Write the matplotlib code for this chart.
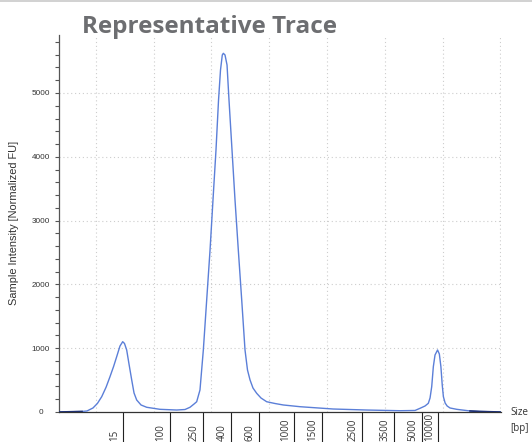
import matplotlib
matplotlib.use('Agg')
import matplotlib.pyplot as plt
from matplotlib.patches import Rectangle
from matplotlib.ticker import MultipleLocator
from matplotlib.transforms import offset_copy

W, H = 532, 442

# electropherogram trace (migration units, intensity in normalized FU)
trace_x = [0.365, 0.763, 0.849, 0.953, 1.030, 1.104, 1.180, 1.247, 1.310, 1.363, 1.420, 1.467, 1.498,
           1.536, 1.576, 1.623, 1.663, 1.709, 1.784, 1.882, 2.112, 2.401, 2.545,
           2.631, 2.701, 2.747, 2.804, 2.862, 2.920, 2.978, 3.029, 3.081, 3.125,
           3.159, 3.190, 3.208, 3.237, 3.272, 3.306, 3.358, 3.410, 3.467, 3.526,
           3.583, 3.626, 3.670, 3.721, 3.785, 3.860, 3.958, 4.102, 4.246, 4.535,
           5.106, 5.689, 6.265, 6.524, 6.611, 6.697, 6.754, 6.784, 6.813, 6.841,
           6.870, 6.914, 6.945, 6.972, 6.995, 7.015, 7.045, 7.080, 7.130, 7.246,
           7.476, 7.649, 7.995]
trace_y = [0, 8, 16, 63, 135, 240, 390, 553, 715, 867, 1034, 1102, 1074,
           972, 752, 502, 298, 188, 110, 74, 42, 31, 39,
           74, 125, 161, 345, 972, 1755, 2539, 3323, 4107, 4890,
           5360, 5596, 5622, 5596, 5439, 4890, 4107, 3323, 2539, 1755,
           972, 658, 502, 376, 293, 219, 161, 133, 110, 83,
           47, 31, 20, 24, 58, 94, 136, 219, 397, 710,
           893, 972, 909, 710, 423, 240, 141, 94, 63, 42,
           16, 8, 0]

# ladder (bp) tick labels and their positions on the migration axis
ladder_bp = ['15', '100', '250', '400', '600', '1000', '1500', '2500', '3500', '5000', '10000']
ladder_pos = [1.478, 2.285, 2.862, 3.341, 3.825, 4.436, 4.910, 5.612, 6.166, 6.640, 6.927]

yticks = [0, 1000, 2000, 3000, 4000, 5000]
ytick_labels = ['0', '1000', '2000', '3000', '4000', '5000']
grid_x = [1, 2, 3, 4, 5, 6, 7, 8]
grid_y = [1000, 2000, 3000, 4000, 5000]

fig = plt.figure(figsize=(W / 100, H / 100), dpi=100)
fig.patches.append(Rectangle((0, 1 - 2 / H), 1, 2 / H, transform=fig.transFigure,
                             facecolor='#d2d2d2', edgecolor='none'))

ax = fig.add_axes([59 / W, 30 / H, 441.5 / W, 377 / H])
ax.set_xlim(0.365, 8.003)
ax.set_ylim(0, 5909)
for s in ['top', 'right']:
    ax.spines[s].set_visible(False)
ax.spines['left'].set_color('#555555')
ax.spines['left'].set_linewidth(0.9)
ax.spines['bottom'].set_color('#333333')
ax.spines['bottom'].set_linewidth(0.9)

for gx in grid_x:
    ax.axvline(gx, color='#cdcdcd', lw=0.8, ls=(0, (1, 2.5)), zorder=0)
for gy in grid_y:
    ax.axhline(gy, color='#cdcdcd', lw=0.8, ls=(0, (1, 2.5)), zorder=0)

ax.plot(trace_x, trace_y, color='#5b7fd8', lw=1.0, zorder=3)
# darker baseline segments at both ends
sx = [x for x in trace_x if x <= 0.77]
sy = trace_y[:len(sx)]
ax.plot(sx, sy, color='#1f3070', lw=1.2, zorder=4)
ex = [x for x in trace_x if x >= 7.47]
ey = trace_y[len(trace_x) - len(ex):]
ax.plot(ex, ey, color='#1f3070', lw=1.2, zorder=4)

# x ticks: long lines below the axis with rotated labels to their left
ax.set_xticks(ladder_pos)
ax.set_xticklabels([])
ax.tick_params(axis='x', direction='out', length=22, width=0.8, color='#222222')
lab_tr = offset_copy(ax.get_xaxis_transform(), fig=fig, x=-3.5, y=0, units='dots')
for p, l in zip(ladder_pos, ladder_bp):
    ax.text(p, (412 - 441) / 377, l, rotation=90, ha='right', va='bottom',
            fontsize=7, family='Open Sans', color='#333333', transform=lab_tr,
            clip_on=False)

# y ticks
ax.set_yticks(yticks)
ax.set_yticklabels(ytick_labels, fontsize=5.9, family='Liberation Sans', color='#333333')
ax.yaxis.set_minor_locator(MultipleLocator(200))
ax.tick_params(axis='y', which='both', direction='out', length=3, width=0.8,
               color='#555555', pad=10)
for t in ax.get_yticklabels():
    t.set_horizontalalignment('center')

ax.set_ylabel('Sample Intensity [Normalized FU]', fontsize=7.9, family='Liberation Sans',
              color='#333333', labelpad=0)
ax.yaxis.set_label_coords((19 - 59) / 441.5, (412 - 223) / 377)

fig.text(510 / W, 1 - 412.5 / H, 'Size', fontsize=7, family='Open Sans',
         color='#333333', va='center', ha='left')
fig.text(510 / W, 1 - 428 / H, '[bp]', fontsize=7, family='Open Sans',
         color='#333333', va='center', ha='left')

title = fig.text(82 / W, 1 - 33.3 / H, 'Representative Trace', fontsize=16, fontweight='bold',
                 family='Open Sans', color='#6d6e71', va='baseline', ha='left')
fig.canvas.draw()
tw = title.get_window_extent().width
title.set_fontsize(16 * 256 / tw)

fig.savefig('out.png', dpi=100)
